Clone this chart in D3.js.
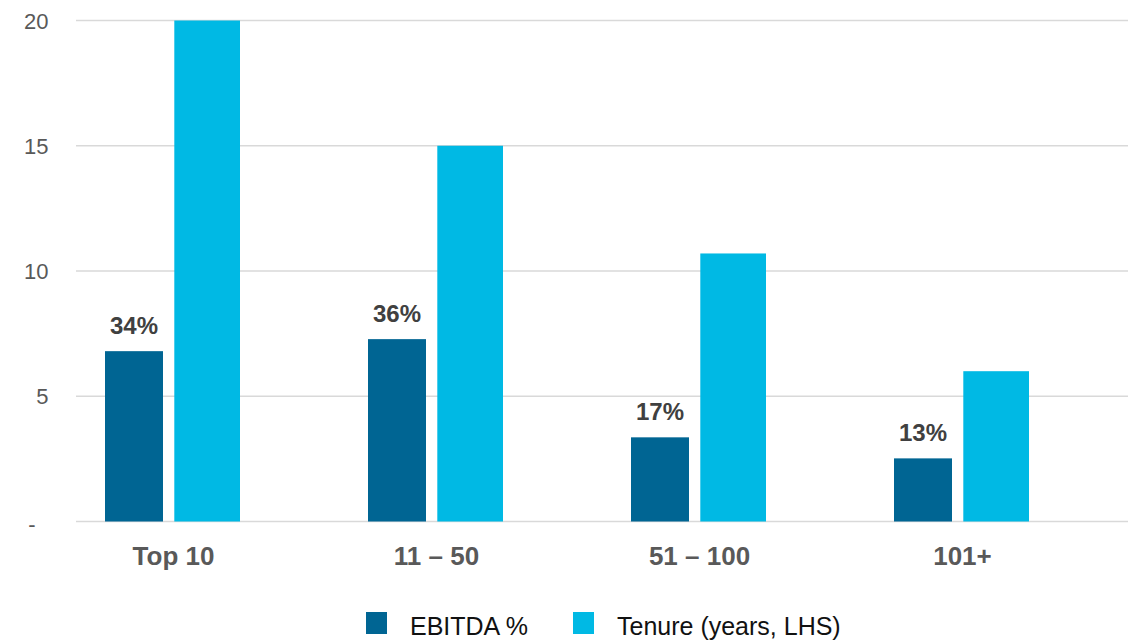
<!DOCTYPE html>
<html>
<head>
<meta charset="utf-8">
<script src="https://cdn.jsdelivr.net/npm/d3@7"></script>
<style>
  html, body { margin: 0; padding: 0; background: #fff; }
  svg { display: block; font-family: Arial, "Liberation Sans", sans-serif; }
</style>
</head>
<body>
<svg id="chart" width="1147" height="643"></svg>
<script>
// ---- Data ----
const categories = ["Top 10", "11 \u2013 50", "51 \u2013 100", "101+"];
const ebitdaPct = [34.0, 36.4, 16.8, 12.6];      // EBITDA %, plotted as % / 5 on LHS scale
const tenureYears = [20, 15, 10.7, 6.0];          // Tenure (years, LHS)
const yTicks = [0, 5, 10, 15, 20];
const seriesNames = ["EBITDA %", "Tenure (years, LHS)"];

// ---- Layout ----
const colors = ["#006593", "#00B9E4"];
const svg = d3.select("#chart");
const plotLeft = 76, plotRight = 1128, plotTop = 20.5, plotBottom = 521.5;

const x = d3.scaleBand().domain(categories).range([plotLeft, plotRight]).padding(0);
const y = d3.scaleLinear().domain([0, 20]).range([plotBottom, plotTop]);
const bw = x.bandwidth();
const darkOff = bw * 29 / 263, darkW = bw * 58 / 263;
const lightOff = bw * 98.3 / 263, lightW = bw * 65.7 / 263;

// gridlines
svg.append("g").selectAll("line").data(yTicks).join("line")
  .attr("x1", plotLeft).attr("x2", plotRight)
  .attr("y1", d => y(d)).attr("y2", d => y(d))
  .attr("stroke", "#d9d9d9").attr("stroke-width", 1.6);

// y axis labels
const yAxis = d3.axisLeft(y).tickValues(yTicks)
  .tickFormat(d => d === 0 ? "-" : d3.format("d")(d))
  .tickSize(0).tickPadding(0);
const gy = svg.append("g").attr("transform", "translate(48.5,0)").call(yAxis);
gy.select(".domain").remove();
gy.selectAll("text")
  .attr("fill", "#595959")
  .style("font-size", "22px")
  .style("font-family", "Arial, 'Liberation Sans', sans-serif")
  .attr("x", d => d === 0 ? -13 : 0)
  .attr("dy", d => d === 0 ? "0.45em" : "0.35em");

// bars: EBITDA
const ebitdaScaled = ebitdaPct.map(v => v / 5);
svg.append("g").selectAll("rect").data(categories).join("rect")
  .attr("x", (c) => x(c) + darkOff)
  .attr("width", darkW)
  .attr("y", (c, i) => y(ebitdaScaled[i]))
  .attr("height", (c, i) => y(0) - y(ebitdaScaled[i]))
  .attr("fill", colors[0]);

// bars: Tenure
svg.append("g").selectAll("rect").data(categories).join("rect")
  .attr("x", (c) => x(c) + lightOff)
  .attr("width", lightW)
  .attr("y", (c, i) => y(tenureYears[i]))
  .attr("height", (c, i) => y(0) - y(tenureYears[i]))
  .attr("fill", colors[1]);

// data labels for EBITDA
svg.append("g").selectAll("text").data(categories).join("text")
  .attr("x", c => x(c) + darkOff + darkW / 2)
  .attr("y", (c, i) => y(ebitdaScaled[i]) - 17)
  .attr("text-anchor", "middle")
  .attr("fill", "#404040")
  .style("font-size", "24px")
  .style("font-weight", "bold")
  .text((c, i) => Math.round(ebitdaPct[i]) + "%");

// category labels
svg.append("g").selectAll("text").data(categories).join("text")
  .attr("x", c => x(c) + (darkOff + lightOff + lightW) / 2 + 1)
  .attr("y", 565)
  .attr("text-anchor", "middle")
  .attr("fill", "#595959")
  .style("font-size", "26px")
  .style("font-weight", "bold")
  .text(c => c);

// legend
const legendX = [366, 573];
const lg = svg.append("g").selectAll("g").data(seriesNames).join("g")
  .attr("transform", (d, i) => `translate(${legendX[i]},612)`);
lg.append("rect").attr("width", 21).attr("height", 22).attr("fill", (d, i) => colors[i]);
lg.append("text").attr("x", 44).attr("y", 23)
  .attr("fill", "#111")
  .style("font-size", "25px")
  .text(d => d);
</script>
</body>
</html>
